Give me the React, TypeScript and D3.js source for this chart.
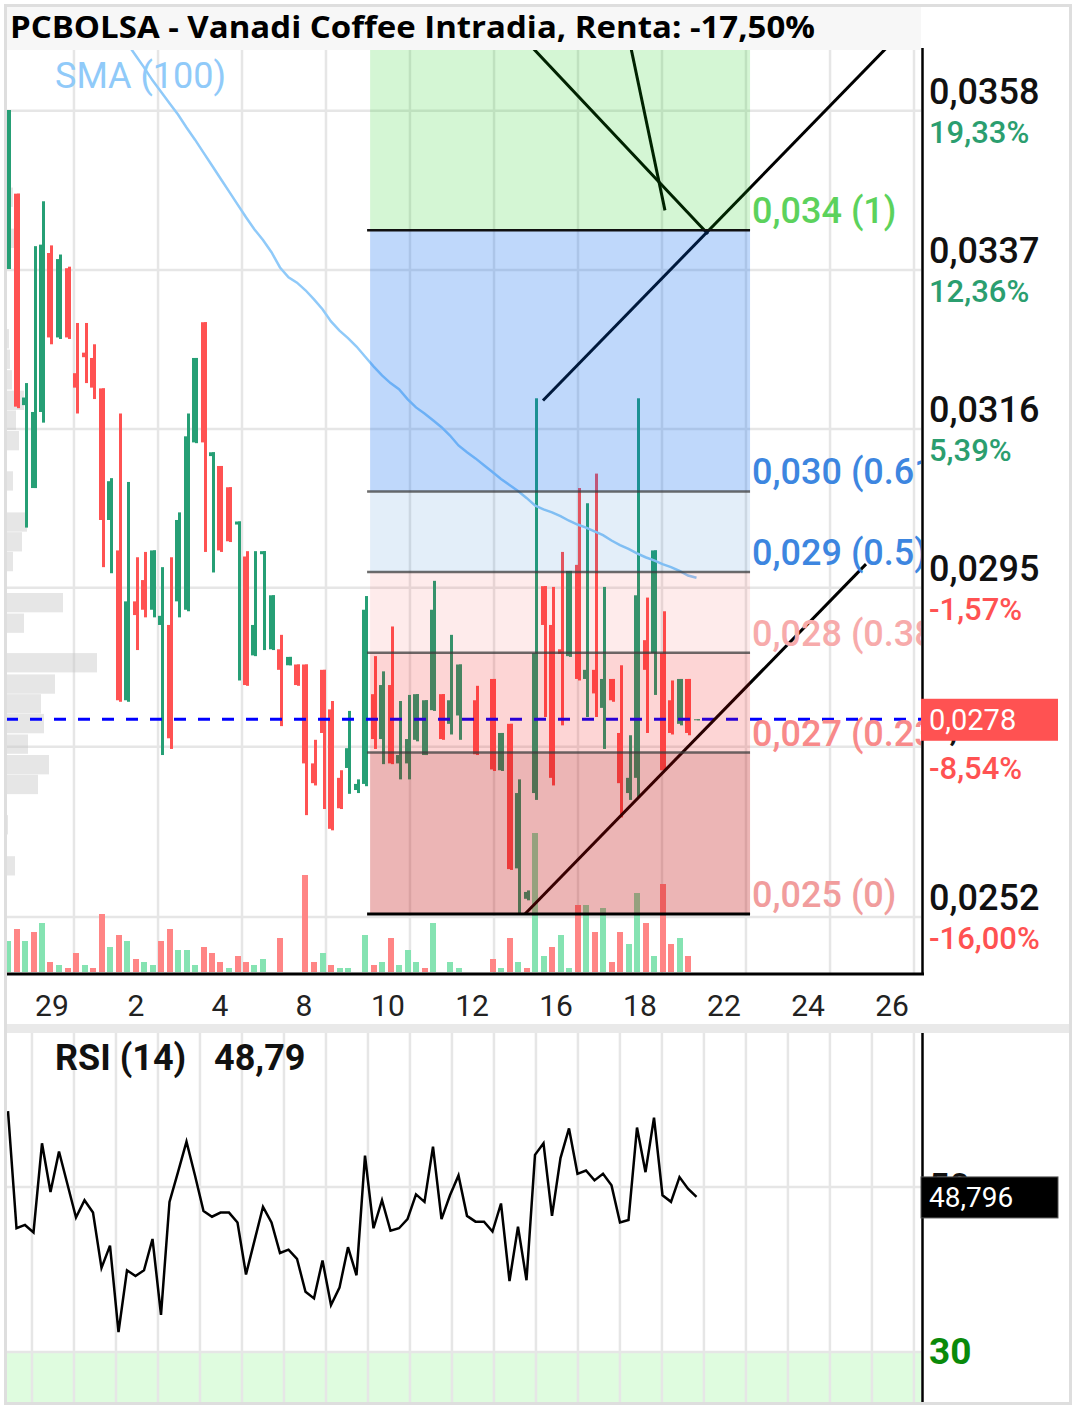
import React from 'react';
import * as d3 from 'd3';

const W = 1076;
const H = 1409;

const TITLE = 'PCBOLSA - Vanadi Coffee Intradia, Renta: -17,50%';

// ---- OHLC (index 0..81), null = no trade ----
const open = [0.03372,0.03471,0.03193,0.03084,0.03184,0.03393,0.03282,0.03373,0.03235,0.03262,
0.03255,0.03215,0.03042,0.03002,0.02805,0.02935,0.02963,0.02924,0.02904,0.02904,
0.02935,0.02924,0.03144,0.03302,0.03126,0.03113,0.03085,0.03036,0.02994,0.02864,
0.02997,0.02872,0.02872,0.02851,0.02852,0.02852,0.02722,0.02845,0.02793,0.02703,
0.02716,0.02687,0.02695,0.02813,0.02754,0.02825,0.02722,0.02722,0.02753,0.02733,
0.02792,0.02813,0.02774,0.02785,null,0.02805,null,0.02833,0.02713,0.02774,
0.02584,0.02544,0.02683,0.02955,0.02904,0.02872,0.02863,0.02983,0.02833,0.02845,
0.02795,0.02833,0.02762,0.02683,0.02703,0.02884,0.02867,0.02867,0.02805,0.02774,
0.02833,0.02780];
const high = [0.03581,0.03471,0.03222,0.03402,0.03461,0.03403,0.03391,0.03375,0.03301,0.03301,
0.03273,0.03215,0.03097,0.03182,0.03092,0.02993,0.03000,0.03002,0.02980,0.02993,
0.03052,0.03182,0.03255,0.03302,0.03131,0.03113,0.03085,0.03040,0.03001,0.03001,
0.03001,0.02943,0.02891,0.02862,0.02852,0.02852,0.02753,0.02845,0.02804,0.02713,
0.02791,0.02701,0.02942,0.02863,0.02843,0.02902,0.02804,0.02812,0.02813,0.02805,
0.02962,0.02813,0.02891,0.02852,null,0.02824,null,0.02833,0.02762,0.02774,
0.02701,0.02555,0.03202,0.02955,0.02954,0.03000,0.02975,0.03084,0.03064,0.03103,
0.02954,0.02833,0.02851,0.02759,0.03202,0.02940,0.03002,0.02922,0.02831,0.02833,
0.02833,0.02780];
const low = [0.03372,0.03189,0.03032,0.03084,0.03170,0.03273,0.03280,0.03280,0.03182,0.03222,
0.03201,0.02980,0.02972,0.02803,0.02803,0.02871,0.02914,0.02914,0.02733,0.02741,
0.02914,0.02922,0.03143,0.03000,0.02973,0.03000,0.03013,0.02831,0.02824,0.02863,
0.02871,0.02871,0.02771,0.02851,0.02824,0.02654,0.02693,0.02662,0.02634,0.02662,
0.02682,0.02683,0.02692,0.02741,0.02721,0.02721,0.02701,0.02701,0.02751,0.02733,
0.02791,0.02753,0.02760,0.02753,null,0.02733,null,0.02712,0.02712,0.02582,
0.02525,0.02542,0.02674,0.02783,0.02693,0.02772,0.02862,0.02831,0.02783,0.02783,
0.02741,0.02803,0.02651,0.02674,0.02678,0.02762,0.02812,0.02713,0.02760,0.02772,
0.02759,0.02780];
const close = [0.03581,0.03191,0.03203,0.03184,0.03404,0.03282,0.03385,0.03282,0.03216,0.03256,
0.03216,0.03042,0.03093,0.02805,0.02935,0.02917,0.02924,0.03002,0.02916,0.02755,
0.03042,0.03152,0.03255,0.03144,0.03131,0.03002,0.03014,0.03040,0.02825,0.02904,
0.03001,0.02943,0.02845,0.02862,0.02825,0.02722,0.02696,0.02762,0.02636,0.02663,
0.02742,0.02695,0.02924,0.02754,0.02825,0.02722,0.02733,0.02754,0.02813,0.02805,
0.02924,0.02754,0.02805,0.02852,null,0.02734,null,0.02714,0.02762,0.02583,
0.02683,0.02553,0.02867,0.02904,0.02703,0.02866,0.02975,0.02833,0.02845,0.02814,
0.02833,0.02805,0.02696,0.02703,0.02943,0.02845,0.03002,0.02713,0.02762,0.02833,
0.02762,0.02780];

// ---- Volume (arbitrary units), direction 1 = green, 0 = red ----
const volume = [31,43,31,40,49,10,7,4,19,7,4,58,25,37,31,13,10,7,31,43,
22,22,7,25,19,10,4,16,10,7,13,null,34,null,null,97,10,19,7,4,
4,null,37,7,10,34,7,22,10,4,49,null,10,4,null,null,null,13,4,34,
10,4,139,16,25,37,4,67,67,40,64,10,40,28,79,49,16,88,28,34,
16,null];
const volumeUp = [1,0,1,0,1,0,1,0,0,1,0,0,1,0,1,0,1,1,0,0,
1,1,1,0,0,0,1,0,0,1,1,0,0,0,0,0,0,1,0,1,
1,0,1,0,1,0,1,1,1,0,1,0,1,1,0,0,0,0,1,0,
1,0,1,1,0,1,1,0,1,0,1,0,0,1,1,0,1,0,0,1,
0,0];

// ---- SMA(100), starting at index 12 ----
const SMA_START = 12;
const sma100 = [0.03712,0.03690,0.03669,0.03653,0.03637,0.03620,0.03605,0.03590,0.03575,0.03558,
0.03542,0.03525,0.03508,0.03491,0.03474,0.03457,0.03440,0.03424,0.03410,0.03394,
0.03374,0.03361,0.03354,0.03344,0.03332,0.03319,0.03303,0.03291,0.03281,0.03270,
0.03257,0.03244,0.03232,0.03222,0.03214,0.03201,0.03190,0.03182,0.03173,0.03164,
0.03153,0.03140,0.03131,0.03123,0.03114,0.03105,0.03096,0.03088,0.03080,0.03071,
0.03061,0.03056,0.03052,0.03047,0.03041,0.03036,0.03032,0.03027,0.03022,0.03015,
0.03009,0.03004,0.02998,0.02993,0.02989,0.02984,0.02980,0.02975,0.02969,0.02966];

// ---- RSI(14), index 0..81 ----
const rsi14 = [59.2,45.0,45.4,44.5,55.3,49.4,54.3,50.3,46.3,48.4,
46.9,40.2,42.9,32.4,39.9,39.2,39.9,43.7,34.5,48.2,
51.8,55.5,51.4,47.1,46.4,46.9,46.9,45.7,39.4,43.5,
47.6,45.7,42.0,42.4,41.3,37.3,36.5,41.1,35.7,37.8,
42.7,39.3,53.8,45.0,48.4,44.7,45.0,46.1,49.1,48.2,
54.9,46.1,49.0,51.4,46.5,45.8,45.8,44.6,48.0,38.6,
45.2,38.7,53.9,55.3,46.5,53.5,57.1,51.6,52.0,50.8,
51.6,50.2,45.7,46.0,57.2,51.8,58.4,49.0,48.2,51.2,
49.8,48.796];

// ---- Volume profile (bin top price, volume units) ----
const PROFILE_BIN = 0.000267;
const profileTop = [0.03479,0.03425,0.03293,0.03266,0.03239,0.03212,0.03186,0.03159,0.03106,0.03052,
0.03026,0.03000,0.02946,0.02919,0.02867,0.02839,0.02813,0.02787,0.02760,0.02733,
0.02707,0.02654,0.02600];
const profileVol = [7,13,3,4,6,18,10,13,7,21,16,7,57,18,91,49,35,38,22,43,32,2,9];

// ---- Axes ----
const priceBase = 0.03;
const pctTicks = [19.33, 12.36, 5.39, -1.57, -8.54, -16.0];
const lastPrice = 0.0278;
const lastRsi = 48.796;
const xTickIdx = [7.76,17.65,27.53,37.41,47.29,57.18,67.06,76.94,86.82,96.71,106.59];
const xTickLabels = ['29','2','4','8','10','12','16','18','22','24','26'];

// ---- Fibonacci ----
const fibLow = 0.02524;
const fibHigh = 0.03423;
const fibStart = 42.6;
const fibEnd = 87.3;
const fibLevels = [0, 0.236, 0.382, 0.5, 0.618, 1];
const fibLabels = ['0,025 (0)','0,027 (0.236)','0,028 (0.382)','0,029 (0.5)','0,030 (0.618)','0,034 (1)'];
const fibLabelColors = ['#f19d9d','#f88a8a','#f7abab','#3d86e0','#3d86e0','#5cd25c'];
const fibZoneEdges = [0, 0.236, 0.382, 0.5, 0.618, 1, 1.618];
const fibZoneColors = ['rgba(190,0,0,0.29)','rgba(240,0,0,0.165)','rgba(240,0,0,0.08)',
  'rgba(0,100,200,0.11)','rgba(0,100,240,0.25)','rgba(0,200,0,0.17)'];

// ---- Trend lines [idx1, price1, idx2, price2] ----
const trendLines = [
  [56.47, 0.03725, 82.35, 0.03418],
  [72.12, 0.03725, 77.29, 0.03449],
  [62.94, 0.03199, 108.78, 0.03725],
  [60.82, 0.02524, 100.94, 0.02984],
];

const PL = 6, PR = 921, PT = 48, PB = 973;
const RT = 1033, RB = 1402;

const fmtComma = (s: string) => s.replace('.', ',').replace('\u2212', '-');

export default function App() {
  const x = d3.scaleLinear().domain([0, 81]).range([8, 696.5]);
  const y = d3.scaleLinear().domain([0.02524, 0.03581]).range([914, 110]);
  const vy = d3.scaleLinear().domain([0, 100]).range([972, 872]);
  const pw = d3.scaleLinear().domain([0, 100]).range([0, 100]);
  const ry = d3.scaleLinear().domain([30, 50]).range([1352, 1187]);

  const smaLine = d3.line<number>().x((_, i) => x(i + SMA_START)).y((d) => y(d));
  const rsiLine = d3.line<number>().x((_, i) => x(i)).y((d) => ry(d));

  const tickPrices = pctTicks.map((p) => priceBase * (1 + p / 100));
  const rsiGrid: number[] = [];
  for (let k = 0; k < 22; k++) rsiGrid.push(xTickIdx[0] - 4.941 + k * 4.941);

  const fibPrice = (l: number) => fibLow + l * (fibHigh - fibLow);
  const fx0 = x(fibStart), fx1 = x(fibEnd);
  const font = 'Roboto, sans-serif';

  return (
    <svg width={W} height={H} style={{ display: 'block', position: 'absolute', left: 0, top: 0 }}>
      <defs>
        <clipPath id="plotClip"><rect x={PL} y={PT} width={PR - PL} height={PB - PT} /></clipPath>
        <clipPath id="rsiClip"><rect x={PL} y={RT} width={PR - PL} height={RB - RT} /></clipPath>
      </defs>
      <rect x={0} y={0} width={W} height={H} fill="#fff" />

      {/* ===== main plot ===== */}
      <g clipPath="url(#plotClip)">
        {tickPrices.map((p, i) => (
          <line key={'hg' + i} x1={PL} x2={PR} y1={y(p)} y2={y(p)} stroke="#e6e6e6" strokeWidth={2.5} />
        ))}
        {xTickIdx.map((t, i) => (
          <line key={'vg' + i} x1={x(t)} x2={x(t)} y1={PT} y2={PB} stroke="#e6e6e6" strokeWidth={2.5} />
        ))}
        {profileTop.map((p, i) => (
          <rect key={'pf' + i} x={PL} y={y(p)} width={pw(profileVol[i])}
            height={y(p - PROFILE_BIN) - y(p) - 1} fill="rgba(200,200,200,0.45)" />
        ))}
        {volume.map((v, i) => v == null ? null : (
          <rect key={'v' + i} x={Math.round(x(i)) - 3} y={vy(v)} width={6} height={vy(0) - vy(v)}
            fill={volumeUp[i] ? '#85e3b2' : '#ff8585'} />
        ))}
        {open.map((o, i) => {
          if (o == null) return null;
          const c = close[i] as number;
          const up = c >= o;
          const col = up ? '#269f75' : '#ff5252';
          const cx = Math.round(x(i));
          const yt = y(Math.max(o, c));
          const yb = y(Math.min(o, c));
          const yh = y(high[i] as number);
          const yl = y(low[i] as number);
          return (
            <g key={'c' + i}>
              <rect x={cx} y={yh} width={3} height={Math.max(1, yl - yh)} fill={col} />
              <rect x={cx - 3} y={yt} width={6} height={Math.max(1, yb - yt)} fill={col} />
            </g>
          );
        })}
        <path d={smaLine(sma100) || ''} fill="none" stroke="#90caf9" strokeWidth={2.5} />
        <line x1={PL} x2={PR} y1={y(lastPrice)} y2={y(lastPrice)} stroke="#0000ff" strokeWidth={3} strokeDasharray="12 12" />
        {trendLines.map((t, i) => (
          <line key={'tl' + i} x1={x(t[0])} y1={y(t[1])} x2={x(t[2])} y2={y(t[3])} stroke="#000" strokeWidth={3} />
        ))}
        {fibZoneColors.map((c, i) => {
          const yTop = y(fibPrice(fibZoneEdges[i + 1]));
          const yBot = y(fibPrice(fibZoneEdges[i]));
          return <rect key={'fz' + i} x={fx0} y={yTop} width={fx1 - fx0} height={yBot - yTop} fill={c} />;
        })}
        {fibLevels.map((l, i) => (
          <line key={'fl' + i} x1={fx0 - 3} x2={fx1} y1={y(fibPrice(l))} y2={y(fibPrice(l))}
            stroke={l === 0 ? '#000' : l === 1 ? '#111' : 'rgba(60,60,60,0.75)'}
            strokeWidth={l === 0 ? 3 : 2.5} />
        ))}
        {fibLevels.map((l, i) => (
          <text key={'ft' + i} x={fx1 + 2} y={y(fibPrice(l)) - 7} fontFamily={font} fontWeight={500}
            fontSize={36} fill={fibLabelColors[i]}>{fibLabels[i]}</text>
        ))}
        <text x={55} y={88} fontFamily={font} fontSize={36} fill="#90caf9">SMA (100)</text>
      </g>

      {/* title */}
      <rect x={6} y={6} width={915} height={44} fill="#f7f7f7" />
      <text x={10} y={38} fontFamily="'Open Sans', sans-serif" fontWeight={700} fontSize={31}
        textLength={805} lengthAdjust="spacingAndGlyphs" fill="#000">{TITLE}</text>

      {/* axes */}
      <line x1={922.5} x2={922.5} y1={PT} y2={975} stroke="#000" strokeWidth={2.5} />
      <line x1={PL} x2={924} y1={974} y2={974} stroke="#000" strokeWidth={3} />
      {tickPrices.map((p, i) => (
        <g key={'pl' + i}>
          <text x={929} y={y(p) - 7} fontFamily={font} fontWeight={500} fontSize={36} fill="#111">
            {fmtComma(d3.format('.4f')(p))}
          </text>
          <text x={929} y={y(p) + 32} fontFamily={font} fontWeight={500} fontSize={31}
            fill={pctTicks[i] > 0 ? '#2b9e6f' : '#ff5252'}>
            {fmtComma(d3.format('.2f')(pctTicks[i])) + '%'}
          </text>
        </g>
      ))}
      <rect x={921} y={y(lastPrice) - 20.5} width={137} height={42} fill="#ff5252" />
      <text x={929} y={y(lastPrice) + 11} fontFamily={font} fontSize={29} fill="#fff">
        {fmtComma(d3.format('.4f')(lastPrice))}
      </text>
      {xTickIdx.map((t, i) => (
        <text key={'xl' + i} x={x(t) - 22} y={1016} textAnchor="middle" fontFamily={font} fontSize={30} fill="#222">
          {xTickLabels[i]}
        </text>
      ))}

      {/* separator */}
      <rect x={6} y={1024} width={1064} height={9} fill="#e9e9e9" />

      {/* ===== RSI panel ===== */}
      <g clipPath="url(#rsiClip)">
        <rect x={PL} y={ry(30)} width={PR - PL} height={RB - ry(30)} fill="#dffcdf" />
        {[50, 30].map((v) => (
          <line key={'rg' + v} x1={PL} x2={PR} y1={ry(v)} y2={ry(v)} stroke="#e6e6e6" strokeWidth={2.5} />
        ))}
        {rsiGrid.map((t, i) => (
          <line key={'rv' + i} x1={x(t)} x2={x(t)} y1={RT} y2={RB} stroke="#e6e6e6" strokeWidth={2.5} />
        ))}
        <path d={rsiLine(rsi14) || ''} fill="none" stroke="#000" strokeWidth={2.5} strokeLinejoin="miter" />
      </g>
      <text x={55} y={1070} fontFamily={font} fontWeight={700} fontSize={36} fill="#111">RSI (14)</text>
      <text x={214} y={1070} fontFamily={font} fontWeight={700} fontSize={36} fill="#111">
        {fmtComma(d3.format('.2f')(Math.floor(lastRsi * 100) / 100))}
      </text>
      <line x1={922.5} x2={922.5} y1={RT} y2={RB} stroke="#000" strokeWidth={2.5} />
      <text x={929} y={ry(50) + 12} fontFamily={font} fontWeight={500} fontSize={36} fill="#111">50</text>
      <text x={929} y={ry(30) + 12} fontFamily={font} fontWeight={700} fontSize={37} fill="#0a8a0a">30</text>
      <rect x={921} y={ry(lastRsi) - 20} width={137} height={41} fill="#000" stroke="#555" strokeWidth={1} />
      <text x={929} y={ry(lastRsi) + 10} fontFamily={font} fontSize={28} fill="#fff">
        {fmtComma(d3.format('.3f')(lastRsi))}
      </text>

      {/* outer border */}
      <rect x={5.5} y={5.5} width={1065} height={1398} fill="none" stroke="#dedede" strokeWidth={3} />
    </svg>
  );
}
